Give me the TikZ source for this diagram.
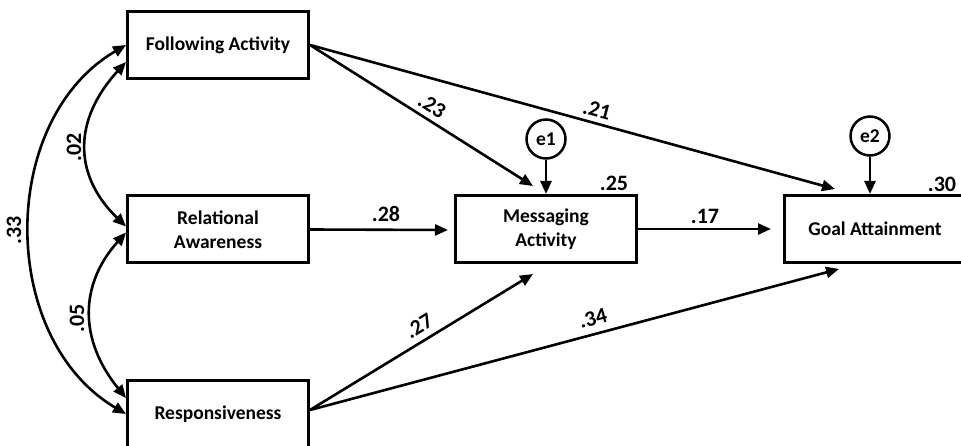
\documentclass[tikz,border=0pt]{standalone}
\usepackage{fontspec}
\setmainfont{Carlito}
\usetikzlibrary{arrows.meta}
\begin{document}
\begin{tikzpicture}[x=1pt,y=-1pt,
  box/.style={draw,line width=3pt,minimum width=181pt,minimum height=67pt,inner sep=0pt,align=center,font=\fontsize{19.5}{24.5}\selectfont\bfseries},
  err/.style={draw,circle,line width=2.5pt,minimum size=39pt,inner sep=0pt,font=\fontsize{19.5}{20}\selectfont\bfseries},
  arr/.style={line width=2.6pt,-{Triangle[length=13pt,width=11pt]}},
  biarr/.style={line width=2.6pt,{Triangle[length=13pt,width=11pt]}-{Triangle[length=13pt,width=11pt]}},
  lab/.style={font=\fontsize{22}{22}\selectfont\bfseries,inner sep=0pt}]
\clip (0,0) rectangle (961,446);
\useasboundingbox (0,0) rectangle (961,446);
\fill[white] (0,0) rectangle (961,446);

\node[box] (F) at (218,45) {Following Activity};
\node[box] (RA) at (218,229.5) {Relational\\Awareness};
\node[box] (R) at (218,414) {Responsiveness};
\node[box] (M) at (546,229) {Messaging\\Activity};
\node[box] (G) at (875,229) {Goal Attainment};
\node[err] (e1) at (546,139) {e1};
\node[err] (e2) at (870,136) {e2};

\coordinate (tFM) at (533,186);
\coordinate (tFG) at (835,189);
\coordinate (tRM) at (533,274);
\coordinate (tRG) at (839,269);
\coordinate (tRAM) at (448,230);
\coordinate (tMG) at (771,229);

\draw[arr] (e1) -- (M.north);
\draw[arr] (e2) -- (e2 |- G.north);
\draw[arr] (F.east) -- (tFM);
\draw[arr] (F.east) -- (tFG);
\draw[arr] ([yshift=4pt]R.east) -- (tRM);
\draw[arr] ([yshift=4pt]R.east) -- (tRG);
\draw[arr] (RA.east) -- (tRAM);
\draw[arr] (M.east) -- (tMG);

\draw[biarr] (F.west) .. controls (-2,120) and (-2,338) .. (R.west);
\draw[biarr] ([yshift=-17pt]F.west) .. controls (73,120) and (73,175) .. ([yshift=3pt]RA.west);
\draw[biarr] ([yshift=-3pt]RA.west) .. controls (79,285) and (79,340) .. ([yshift=16pt]R.west);

\node[lab,rotate=-32] (l23) at (432,106) {.23};
\node[lab,rotate=-15] (l21) at (597,110) {.21};
\node[lab,rotate=31] (l27) at (419,326) {.27};
\node[lab,rotate=15] (l34) at (593,318) {.34};
\node[lab] (l28) at (386,214) {.28};
\node[lab] (l25) at (614,183) {.25};
\node[lab] (l17) at (705,216) {.17};
\node[lab] (l30) at (942,184) {.30};
\node[lab,rotate=90] (l02) at (74,147) {.02};
\node[lab,rotate=90] (l33) at (14,230) {.33};
\node[lab,rotate=90] (l05) at (77,318) {.05};
\end{tikzpicture}
\end{document}
